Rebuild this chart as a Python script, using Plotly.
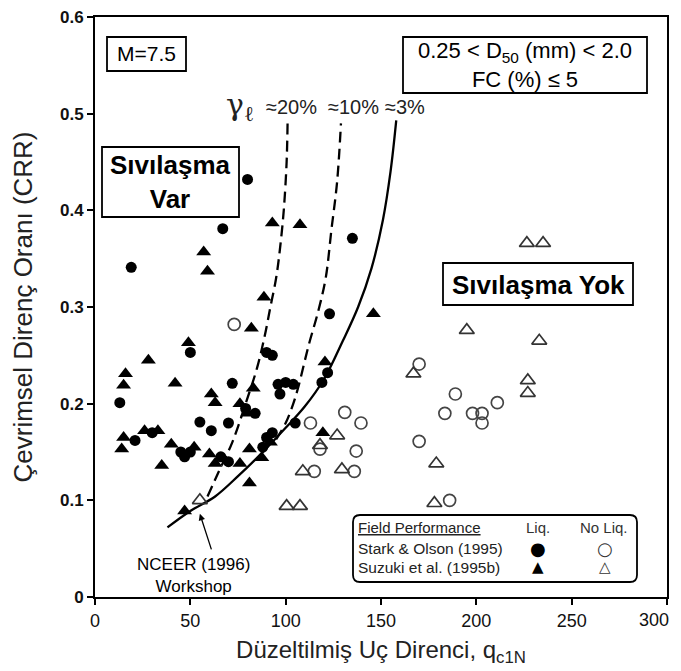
import plotly.graph_objects as go

# ---- data ----
stark_liq_x = [19, 67, 80, 135, 123, 50, 90, 93, 13, 72, 96, 100, 104, 97, 122, 119,
               55, 70, 61, 21, 30, 45, 50, 47, 79, 84, 105, 90, 93, 66, 70, 88]
stark_liq_y = [0.341, 0.381, 0.432, 0.371, 0.293, 0.253, 0.253, 0.250, 0.201, 0.221, 0.220,
               0.222, 0.220, 0.210, 0.232, 0.222, 0.181, 0.180, 0.172, 0.162, 0.170, 0.150,
               0.150, 0.145, 0.195, 0.190, 0.180, 0.165, 0.170, 0.145, 0.140, 0.155]

suzuki_liq_x = [93, 107.5, 57, 59, 88.6, 82, 146, 49, 28, 120.6, 16, 15, 42, 61, 63, 83,
                15, 14, 26, 33, 40, 35, 60, 63, 76, 81, 81, 119.5, 47, 76, 80, 92, 87.5, 52]
suzuki_liq_y = [0.387, 0.385, 0.357, 0.337, 0.310, 0.278, 0.293, 0.263, 0.245, 0.243, 0.231,
                0.219, 0.221, 0.210, 0.201, 0.216, 0.165, 0.153, 0.172, 0.172, 0.158, 0.136,
                0.148, 0.138, 0.138, 0.153, 0.118, 0.170, 0.089, 0.200, 0.190, 0.160, 0.144, 0.155]

stark_noliq_x = [73, 113, 131, 139.5, 118, 137, 115, 136, 170, 189, 183.5, 198, 203, 203,
                 211, 170, 186]
stark_noliq_y = [0.282, 0.180, 0.191, 0.180, 0.153, 0.151, 0.130, 0.130, 0.241, 0.210, 0.190,
                 0.190, 0.190, 0.180, 0.201, 0.161, 0.100]

suzuki_noliq_x = [226.5, 235, 195, 233, 167, 227, 227, 179, 178, 127, 118, 109, 129.5,
                  100.5, 107.5, 55]
suzuki_noliq_y = [0.366, 0.366, 0.276, 0.265, 0.231, 0.224, 0.211, 0.138, 0.097, 0.167,
                  0.157, 0.130, 0.132, 0.094, 0.094, 0.100]

# boundary curves
c3_x = [38, 50, 63, 75, 89, 100, 110, 120, 130, 138, 145, 151, 155, 158]
c3_y = [0.072, 0.089, 0.104, 0.125, 0.152, 0.175, 0.197, 0.225, 0.265, 0.300, 0.340, 0.390, 0.440, 0.493]
c10_x = [95, 100, 104, 107, 112, 117, 121, 124, 127, 129]
c10_y = [0.163, 0.180, 0.200, 0.220, 0.260, 0.295, 0.330, 0.380, 0.430, 0.490]
c20_x = [59, 65, 72, 79, 85, 89, 92, 95, 97, 99, 100.5, 101]
c20_y = [0.104, 0.130, 0.160, 0.200, 0.237, 0.270, 0.300, 0.330, 0.360, 0.400, 0.450, 0.490]

x_ticks = [0, 50, 100, 150, 200, 250, 300]
x_tick_text = ["0", "50", "100", "150", "200", "250", ""]  # "300" drawn separately (edge)
y_ticks = [0, 0.1, 0.2, 0.3, 0.4, 0.5, 0.6]
y_tick_text = ["0", "0.1", "0.2", "0.3", "0.4", "0.5", "0.6"]

FONT = "Liberation Sans, Arial, sans-serif"

fig = go.Figure()

for cx, cy, dash in [(c20_x, c20_y, "11px,6px"), (c10_x, c10_y, "11px,6px"), (c3_x, c3_y, "solid")]:
    fig.add_trace(go.Scatter(x=cx, y=cy, mode="lines", line=dict(color="black", width=2.3, dash=dash,
                                                                  shape="spline", smoothing=1.0),
                             hoverinfo="skip", showlegend=False))

fig.add_trace(go.Scatter(x=stark_liq_x, y=stark_liq_y, mode="markers",
                         marker=dict(symbol="circle", size=11, color="black"), showlegend=False))
fig.add_trace(go.Scatter(x=suzuki_liq_x, y=suzuki_liq_y, mode="markers",
                         marker=dict(symbol="triangle-up", size=13, color="black"), showlegend=False))
fig.add_trace(go.Scatter(x=stark_noliq_x, y=stark_noliq_y, mode="markers",
                         marker=dict(symbol="circle-open", size=12, color="#444",
                                     line=dict(width=1.7, color="#444")), showlegend=False))
fig.add_trace(go.Scatter(x=suzuki_noliq_x, y=suzuki_noliq_y, mode="markers",
                         marker=dict(symbol="triangle-up-open", size=13, color="#333",
                                     line=dict(width=1.7, color="#333")), showlegend=False))

# page has an 8px body margin -> figure is drawn 8px in; compensate
OFF = 8
W, H = 681, 663
ml, mr, mt, mb = 87, 22, 9, 74
pw, ph = W - ml - mr, H - mt - mb


def px(x):  # page pixel -> paper
    return (x - OFF - ml) / pw


def py(y):
    return (H - mb - (y - OFF)) / ph


shapes = []
for (x0, y0, x1, y1) in [(107, 37, 186, 71), (403, 37, 647, 93), (102, 147, 239, 217), (443, 263, 633, 305)]:
    shapes.append(dict(type="rect", xref="paper", yref="paper", x0=px(x0), x1=px(x1),
                       y0=py(y1), y1=py(y0), line=dict(color="black", width=1.8), fillcolor="white",
                       layer="above"))
x0, x1, y0, y1 = px(353), px(637), py(582), py(515)
rx, ry = 7 / pw, 7 / ph
path = (f"M {x0+rx},{y0} L {x1-rx},{y0} Q {x1},{y0} {x1},{y0+ry} L {x1},{y1-ry} "
        f"Q {x1},{y1} {x1-rx},{y1} L {x0+rx},{y1} Q {x0},{y1} {x0},{y1-ry} L {x0},{y0+ry} "
        f"Q {x0},{y0} {x0+rx},{y0} Z")
shapes.append(dict(type="path", xref="paper", yref="paper", path=path,
                   line=dict(color="black", width=1.8), fillcolor="white", layer="above"))

ann = []


def a(text, x, y, size, xanchor="center", family=FONT, color="black", yanchor="middle", **kw):
    ann.append(dict(text=text, x=px(x), y=py(y), xref="paper", yref="paper", showarrow=False,
                    xanchor=xanchor, yanchor=yanchor, font=dict(size=size, family=family, color=color), **kw))


a("M=7.5", 146, 54, 21)
a("0.25 < D<sub>50</sub> (mm) < 2.0<br>FC (%) ≤ 5", 525, 65, 22)
a("<b>Sıvılaşma<br>Var</b>", 170, 182, 26)
a("<b>Sıvılaşma Yok</b>", 538, 285, 26)
a("γ<sub>ℓ</sub>", 240, 106, 30, family="DejaVu Serif, Liberation Serif, serif", color="#222")
a("≈20%", 291, 107, 20, color="#222")
a("≈10%", 353, 107, 20, color="#222")
a("≈3%", 405, 107, 20, color="#222")
a("NCEER (1996)<br>Workshop", 193, 575, 17)

a("<u>Field Performance</u>", 356, 527, 15, xanchor="left", color="#222")
a("Liq.", 538, 527, 15, color="#333")
a("No Liq.", 604, 527, 15, color="#333")
a("Stark & Olson (1995)", 356, 548, 15.5, xanchor="left", color="#222")
a("Suzuki et al. (1995b)", 356, 567, 15.5, xanchor="left", color="#222")
a("●", 538, 548, 18, family="DejaVu Sans")
a("○", 605, 548, 18, family="DejaVu Sans", color="#333")
a("▲", 538, 567, 15, family="DejaVu Sans")
a("△", 605, 567, 15, family="DejaVu Sans", color="#333")
a("300", 654, 620, 18, color="#111")

ann.append(dict(x=55, y=0.086, xref="x", yref="y", text="", showarrow=True, ax=12, ay=37,
                arrowhead=2, arrowsize=1, arrowwidth=1.3, arrowcolor="black"))

fig.update_layout(
    width=W, height=H,
    margin=dict(l=ml, r=mr, t=mt, b=mb),
    paper_bgcolor="white", plot_bgcolor="white",
    shapes=shapes, annotations=ann,
    font=dict(family=FONT, color="black"),
    xaxis=dict(range=[0, 300], tickvals=x_ticks, ticktext=x_tick_text, showgrid=False, zeroline=False,
               automargin=False,
               showline=True, mirror=True, linecolor="black", linewidth=2,
               ticks="outside", ticklen=6, tickwidth=1.5, tickcolor="black",
               ticklabeloverflow="allow",
               tickfont=dict(size=18, family=FONT, color="#111"),
               title=dict(text="Düzeltilmiş Uç Direnci, q<sub>c1N</sub>", standoff=12,
                          font=dict(size=24, family=FONT, color="#222"))),
    yaxis=dict(range=[0, 0.6], tickvals=y_ticks, ticktext=y_tick_text, showgrid=False, zeroline=False,
               automargin=False, ticklabeloverflow="allow",
               showline=True, mirror=True, linecolor="black", linewidth=2,
               ticks="outside", ticklen=6, tickwidth=1.5, tickcolor="black",
               tickfont=dict(size=17, family=FONT, color="#111", weight="bold"),
               title=dict(text="Çevrimsel Direnç Oranı (CRR)", standoff=20,
                          font=dict(size=26, family=FONT, color="#222"))),
)

fig.write_html("out.html")
